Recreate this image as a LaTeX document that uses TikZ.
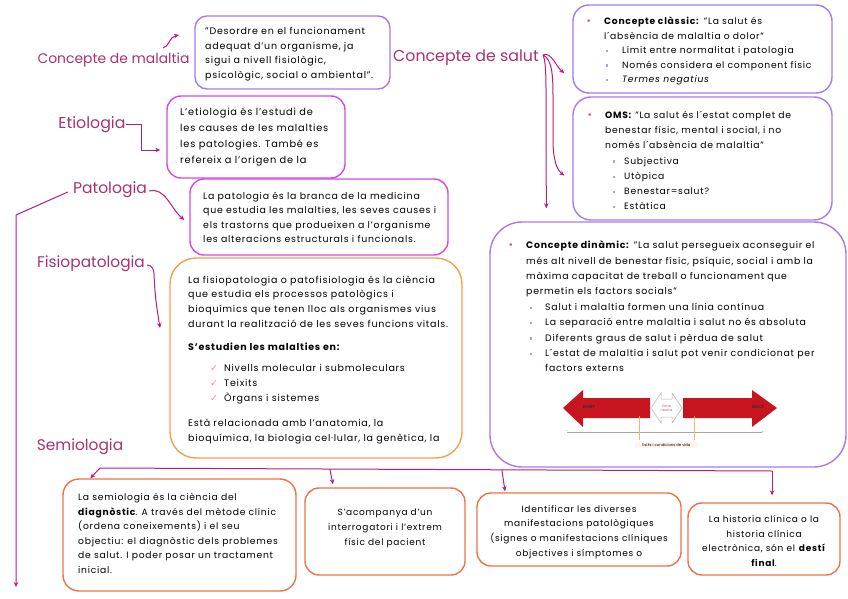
\documentclass[tikz,border=0pt]{standalone}
\usepackage{fontspec}
\setmainfont{Poppins}[LetterSpace=8]
\newfontfamily\labfont{Poppins}
\newfontfamily\dejavu{DejaVu Sans}
\usetikzlibrary{arrows.meta,calc}
\definecolor{labc}{HTML}{A8326E}
\definecolor{arrc}{HTML}{B81D7A}
\definecolor{purp}{HTML}{A57BEF}
\definecolor{mag}{HTML}{D54BD8}
\definecolor{orng}{HTML}{F3A04A}
\definecolor{coral}{HTML}{EF7148}
\definecolor{pinkb}{HTML}{E2559B}
\definecolor{lav}{HTML}{B89AE8}
\definecolor{redarr}{HTML}{C8141E}
\newcommand\mainbul{\makebox[18pt][l]{\textcolor{pinkb}{\dejavu •}}}
\newcommand\sqb{\textcolor{lav}{\raisebox{1.5pt}{\rule{2.2pt}{2.2pt}}}}
\newcommand\chk{\textcolor{pinkb!70}{\dejavu ✓}}
\begin{document}
\begin{tikzpicture}[x=1pt,y=-1pt,
  box/.style={draw, line width=1.4pt, rounded corners=12pt, inner sep=0pt},
  lab/.style={text=labc, inner sep=0pt},
  txt/.style={align=left, inner sep=0pt, anchor=west},
  ctxt/.style={align=center, inner sep=0pt, anchor=center},
  arr/.style={draw=arrc, line width=1pt, -{Stealth[length=5pt,width=4.5pt]}},
  ln/.style={draw=arrc, line width=1pt}]
\useasboundingbox (0,0) rectangle (848,599);

% ---------- boxes ----------
\node[box, draw=purp, minimum width=195pt, minimum height=73pt] (bmal) at (292.5,52.5) {};
\node[box, draw=purp, minimum width=259pt, minimum height=88pt, rounded corners=16pt] (bclas) at (702.5,49) {};
\node[box, draw=purp, minimum width=259pt, minimum height=123pt, rounded corners=18pt] (boms) at (702.5,158.5) {};
\node[box, draw=purp, minimum width=356pt, minimum height=245pt, rounded corners=32pt] (bdin) at (668,344.5) {};
\node[box, draw=mag, minimum width=178pt, minimum height=82pt, rounded corners=14pt] (betio) at (256,137) {};
\node[box, draw=mag, minimum width=258pt, minimum height=76pt, rounded corners=14pt] (bpat) at (319,217) {};
\node[box, draw=orng, minimum width=292pt, minimum height=200pt, rounded corners=26pt] (bfis) at (316,358) {};
\node[box, draw=coral, minimum width=233pt, minimum height=112pt, rounded corners=16pt] (bs1) at (179.5,535) {};
\node[box, draw=coral, minimum width=160pt, minimum height=87pt, rounded corners=14pt] (bs2) at (385,531.5) {};
\node[box, draw=coral, minimum width=204pt, minimum height=73pt, rounded corners=14pt] (bs3) at (579,529.5) {};
\node[box, draw=coral, minimum width=152pt, minimum height=72pt, rounded corners=14pt] (bs4) at (764,539) {};

% ---------- labels ----------
\node[lab, font=\labfont\fontsize{13.9}{15}\selectfont] (lmal) at (113.5,60) {Concepte de malaltia};
\node[lab, font=\labfont\fontsize{15.8}{17}\selectfont] (lsal) at (466,58) {Concepte de salut};
\node[lab, font=\labfont\fontsize{15.8}{17}\selectfont] (letio) at (92,125) {Etiologia};
\node[lab, font=\labfont\fontsize{15.6}{17}\selectfont] (lpat) at (110,190) {Patologia};
\node[lab, font=\labfont\fontsize{15.4}{17}\selectfont] (lfis) at (91,264) {Fisiopatologia};
\node[lab, font=\labfont\fontsize{15.4}{17}\selectfont] (lsemi) at (80,447) {Semiologia};

% ---------- texts ----------
\node[txt, font=\fontsize{9.5}{14.5}\selectfont] (tmal) at (205,54) {''Desordre en el funcionament\\adequat d’un organisme, ja\\sigui a nivell fisiològic,\\psicològic, social o ambiental''.};

\node[txt, font=\fontsize{9.2}{14.5}\selectfont] (tclas) at (586,51) {\mainbul\textbf{Concepte clàssic:} ''La salut és\\\hspace{18pt}l´absència de malaltia o dolor''\\\hspace{20pt}\makebox[16pt][l]{\sqb}Límit entre normalitat i patologia\\\hspace{20pt}\makebox[16pt][l]{\sqb}Només considera el component físic\\\hspace{20pt}\makebox[16pt][l]{\sqb}\textit{Termes negatius}};

\node[txt, font=\fontsize{9.2}{15.3}\selectfont] (toms) at (587,160.5) {\mainbul\textbf{OMS:} ''La salut és l´estat complet de\\\hspace{18pt}benestar físic, mental i social, i no\\\hspace{18pt}només l´absència de malaltia''\\\hspace{26pt}\makebox[11pt][l]{\sqb}Subjectiva\\\hspace{26pt}\makebox[11pt][l]{\sqb}Utòpica\\\hspace{26pt}\makebox[11pt][l]{\sqb}Benestar=salut?\\\hspace{26pt}\makebox[11pt][l]{\sqb}Estàtica};

\node[txt, font=\fontsize{9.35}{15.4}\selectfont] (tdin) at (508,306.5) {\mainbul\textbf{Concepte dinàmic:} ''La salut persegueix aconseguir el\\\hspace{18pt}més alt nivell de benestar físic, psíquic, social i amb la\\\hspace{18pt}màxima capacitat de treball o funcionament que\\\hspace{18pt}permetin els factors socials''\\\hspace{22pt}\makebox[15pt][l]{\sqb}Salut i malaltia formen una línia contínua\\\hspace{22pt}\makebox[15pt][l]{\sqb}La separació entre malaltia i salut no és absoluta\\\hspace{22pt}\makebox[15pt][l]{\sqb}Diferents graus de salut i pèrdua de salut\\\hspace{22pt}\makebox[15pt][l]{\sqb}L´estat de malaltia i salut pot venir condicionat per\\\hspace{37pt}factors externs};

\node[txt, font=\fontsize{9.8}{16}\selectfont] (tetio) at (180,137) {L’etiologia és l’estudi de\\les causes de les malalties\\les patologies. També es\\refereix a l’origen de la};

\node[txt, font=\fontsize{9.4}{14.3}\selectfont] (tpat) at (203,217.5) {La patologia és la branca de la medicina\\que estudia les malalties, les seves causes i\\els trastorns que produeixen a l’organisme\\les alteracions estructurals i funcionals.};

\node[txt, font=\fontsize{9.5}{14.7}\selectfont] (tfis) at (188,360) {La fisiopatologia o patofisiologia és la ciència\\que estudia els processos patològics i\\bioquímics que tenen lloc als organismes vius\\durant la realització de les seves funcions vitals.\\[8pt]\textbf{S’estudien les malalties en:}\\[7pt]\hspace{22pt}\makebox[14pt][l]{\chk}Nivells molecular i submoleculars\\\hspace{22pt}\makebox[14pt][l]{\chk}Teixits\\\hspace{22pt}\makebox[14pt][l]{\chk}Òrgans i sistemes\\[11pt]Està relacionada amb l’anatomia, la\\bioquímica, la biologia cel·lular, la genètica, la};

\node[txt, font=\fontsize{9.2}{14.6}\selectfont] (ts1) at (78,533.5) {La semiologia és la ciència del\\\textbf{diagnòstic}. A través del mètode clínic\\(ordena coneixements) i el seu\\objectiu: el diagnòstic dels problemes\\de salut.  I poder posar un tractament\\inicial.};

\node[ctxt, font=\fontsize{9}{15}\selectfont] (ts2) at (385,528) {S’acompanya d’un\\interrogatori i l’extrem\\físic del pacient};

\node[ctxt, font=\fontsize{9}{14.6}\selectfont] (ts3) at (579,532) {Identificar les diverses\\manifestacions patològiques\\(signes o manifestacions clíniques\\objectives i símptomes o};

\node[ctxt, font=\fontsize{9}{14.6}\selectfont] (ts4) at (764,541) {La historia clínica o la\\historia clínica\\electrònica, són el \textbf{destí}\\\textbf{final}.};

% ---------- connectors ----------
\coordinate (malA) at (163,48);
\coordinate (malB) at (179,35);
\draw[arr] (malA) .. controls (169,47) and (169,37) .. (malB);

\coordinate (salA) at ($(lsal.east)+(4,-3)$);
\draw[arr] (salA) .. controls +(8,-4) and +(-8,-6) .. ($(bclas.west)+(-8,24)$);
\draw[arr] (salA) .. controls +(10,4) and +(0,-20) .. (553,100) -- (553,140) .. controls (553,160) and (557,170) .. ($(boms.west)+(-8,17)$);
\draw[arr] (salA) .. controls +(2,4) and +(0,-20) .. (546,90) -- ($(bdin.north west)+(57,-13)$);

\draw[arr] (letio.east) -- ++(16,0) |- ($(betio.west)+(-6,13)$);

\draw[arr] ($(lpat.east)+(2,1)$) .. controls +(16,-4) and +(-14,-12) .. ($(bpat.west)+(-5,3)$);
\coordinate (patL) at (16,215);
\coordinate (patEnd) at (16,587);
\draw[arr] ($(lpat.west)+(-5,2)$) -- (patL) -- (patEnd);

\draw[arr] ($(lfis.east)+(2,1)$) .. controls +(5,0) and +(0,-4) .. (154,274) .. controls (155,300) and (158,315) .. (160,328);

\coordinate (semiA) at (100,468);
\coordinate (semiB) at (772,471);
\draw[ln] (semiA) -- (semiB);
\draw[arr] (semiA) -- ($(bs1.north west)+(28,0)$);
\draw[arr] ($(semiA)!0.342!(semiB)$) -- ($(bs2.north)+(-52,-3)$);
\draw[arr] ($(semiA)!0.598!(semiB)$) -- ($(bs3.north)+(-74,-1)$);
\draw[arr] (semiB) -- ($(bs4.north)+(8,-7)$);

% ---------- health continuum graphic ----------
\fill[redarr] (563,408) -- (583,390) -- (583,398) -- (650,398) -- (650,418) -- (583,418) -- (583,427) -- cycle;
\fill[redarr] (777,408) -- (752,390) -- (752,398) -- (683,398) -- (683,418) -- (752,418) -- (752,427) -- cycle;
\draw[gray!60, line width=0.5pt] (651,408) -- (661,393) -- (661,399) -- (672,399) -- (672,393) -- (682,408) -- (672,423) -- (672,417) -- (661,417) -- (661,423) -- cycle;
\node[inner sep=0pt, align=center, text=purple!70, font=\labfont\fontsize{3.5}{4}\selectfont] (zn) at (666.5,408) {Zona\\neutra};
\node[inner sep=0pt, text=black!80, font=\labfont\fontsize{4}{4}\selectfont\bfseries] (mort) at (589,407) {MORT};
\node[inner sep=0pt, text=black!80, font=\labfont\fontsize{4}{4}\selectfont\bfseries] (salt) at (758,407) {SALUT};
\draw[gray!70, line width=0.4pt] (567,432) -- (762,432);
\node[inner sep=0pt, font=\labfont\fontsize{4}{4}\selectfont, text=gray] (mn) at (567,432) {-};
\node[inner sep=0pt, font=\labfont\fontsize{4}{4}\selectfont, text=gray] (pl) at (763,432) {+};
\node[inner sep=1.5pt, fill=orange!8, font=\labfont\fontsize{3.8}{4}\selectfont, minimum width=63pt] (estils) at (666.5,445) {Estils i condicions de vida};
\draw[orange!60, line width=0.5pt] (639,416) -- (639,440);
\draw[orange!60, line width=0.5pt] (694,416) -- (694,440);
\end{tikzpicture}
\end{document}
